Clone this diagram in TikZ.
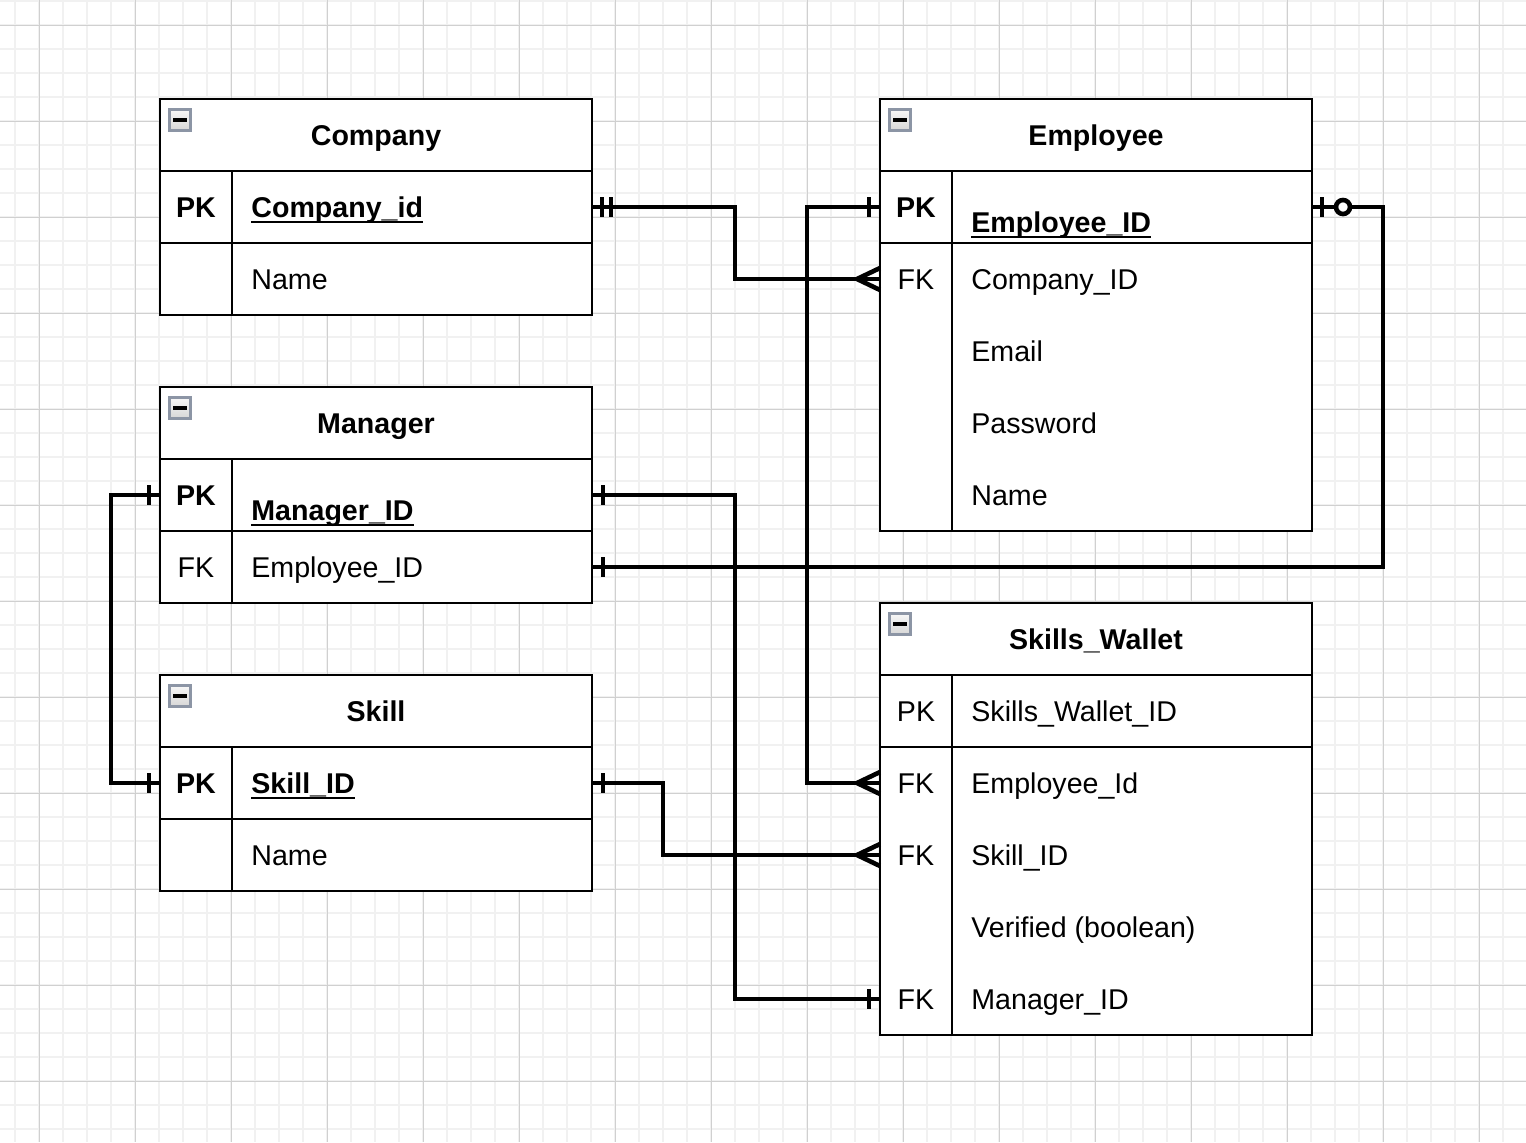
\documentclass[tikz,border=0pt]{standalone}
\usepackage{fontspec}
\setmainfont{Liberation Sans}
\usepackage{tikz}
\usetikzlibrary{positioning}
\definecolor{GridMinor}{HTML}{F1F1F1}
\definecolor{GridMajor}{HTML}{D0D0D0}
\definecolor{IconBorder}{HTML}{8C95A5}
\newcommand{\erfont}{\fontsize{14.3}{17}\selectfont}
% underline sitting just under the baseline
\newcommand{\ulfield}[1]{\setbox0\hbox{#1}\rlap{\rule[-2.8pt]{\wd0}{1pt}}\box0}
\tikzset{
  tabletitle/.style={rectangle, fill=white, minimum width=216pt, minimum height=36pt, inner sep=0pt, outer sep=0pt, anchor=north west, text height=10.2pt, text depth=0pt, font=\erfont\bfseries},
  tablerow/.style={rectangle, fill=white, minimum width=216pt, minimum height=36pt, inner sep=0pt, outer sep=0pt},
  keytext/.style={inner sep=0pt, text height=10.2pt, text depth=0pt, font=\erfont},
  fieldtext/.style={keytext, anchor=west},
  boldtext/.style={font=\erfont\bfseries},
  tableline/.style={draw=black, line width=1pt},
  relline/.style={draw=black, line width=2.3pt},
  minusbox/.style={rectangle, draw=IconBorder, line width=1.1pt, minimum size=10.5pt, inner sep=0pt, top color=gray!6, bottom color=gray!32,
    path picture={\draw[black, line width=1.7pt] ([xshift=-3.4pt]path picture bounding box.center) -- ([xshift=3.4pt]path picture bounding box.center);}},
  gridminor/.style={draw=GridMinor, line width=0.8pt},
  gridmajor/.style={draw=GridMajor, line width=0.5pt},
  crowfoot/.pic={\draw[relline] (-23,0) -- (0,-11) (-23,0) -- (0,11);},
  onebar/.pic={\draw[relline] (-11,-10) -- (-11,10);},
  twobar/.pic={\draw[relline] (-10,-10) -- (-10,10) (-19,-10) -- (-19,10);},
  zeroone/.pic={\draw[relline] (-10,-10) -- (-10,10); \draw[relline, fill=white] (-31,0) circle (7);}
}

\begin{document}
\begin{tikzpicture}[x=0.5pt, y=-0.5pt]
  \useasboundingbox (0,0) rectangle (1526,1142);
  \fill[white] (0,0) rectangle (1526,1142);

  % grid
  \foreach \gx in {15,39,...,1526} \draw[gridminor] (\gx,0) -- (\gx,1142);
  \foreach \gy in {1,25,...,1142} \draw[gridminor] (0,\gy) -- (1526,\gy);
  \foreach \gx in {39,135,...,1526} \draw[gridmajor] (\gx,0) -- (\gx,1142);
  \foreach \gy in {25,121,...,1142} \draw[gridmajor] (0,\gy) -- (1526,\gy);

  % Company
  \node[tabletitle] (company) at (160,99) {Company};
  \node[tablerow, below=0pt of company] (companyId) {};
  \node[tablerow, below=0pt of companyId] (companyName) {};
  \node[keytext, boldtext] (companyPK) at ([xshift=18pt]companyId.west) {PK};
  \node[fieldtext, boldtext] (companyIdTxt) at ([xshift=45.5pt]companyId.west) {\ulfield{Company\_id}};
  \node[fieldtext] (companyNameTxt) at ([xshift=45.5pt]companyName.west) {Name};
  \draw[tableline] (company.north west) rectangle (companyName.south east);
  \draw[tableline] (company.south west) -- (company.south east) (companyId.south west) -- (companyId.south east)
    ([xshift=36pt]company.south west) -- ([xshift=36pt]companyName.south west);
  \node[minusbox] (companyMin) at ([shift={(20,21)}]company.north west) {};

  % Employee
  \node[tabletitle] (employee) at (880,99) {Employee};
  \node[tablerow, below=0pt of employee] (empId) {};
  \node[tablerow, below=0pt of empId] (empCompany) {};
  \node[tablerow, below=0pt of empCompany] (empEmail) {};
  \node[tablerow, below=0pt of empEmail] (empPassword) {};
  \node[tablerow, below=0pt of empPassword] (empName) {};
  \node[keytext, boldtext] (empPK) at ([xshift=18pt]empId.west) {PK};
  \node[fieldtext, boldtext] (empIdTxt) at ([xshift=45.5pt, yshift=-7.5pt]empId.west) {\ulfield{Employee\_ID}};
  \node[keytext] (empFK) at ([xshift=18pt]empCompany.west) {FK};
  \node[fieldtext] (empCompanyTxt) at ([xshift=45.5pt]empCompany.west) {Company\_ID};
  \node[fieldtext] (empEmailTxt) at ([xshift=45.5pt]empEmail.west) {Email};
  \node[fieldtext] (empPasswordTxt) at ([xshift=45.5pt]empPassword.west) {Password};
  \node[fieldtext] (empNameTxt) at ([xshift=45.5pt]empName.west) {Name};
  \draw[tableline] (employee.north west) rectangle (empName.south east);
  \draw[tableline] (employee.south west) -- (employee.south east) (empId.south west) -- (empId.south east)
    ([xshift=36pt]employee.south west) -- ([xshift=36pt]empName.south west);
  \node[minusbox] (employeeMin) at ([shift={(20,21)}]employee.north west) {};

  % Manager
  \node[tabletitle] (manager) at (160,387) {Manager};
  \node[tablerow, below=0pt of manager] (mgrId) {};
  \node[tablerow, below=0pt of mgrId] (mgrEmployee) {};
  \node[keytext, boldtext] (mgrPK) at ([xshift=18pt]mgrId.west) {PK};
  \node[fieldtext, boldtext] (mgrIdTxt) at ([xshift=45.5pt, yshift=-7.5pt]mgrId.west) {\ulfield{Manager\_ID}};
  \node[keytext] (mgrFK) at ([xshift=18pt]mgrEmployee.west) {FK};
  \node[fieldtext] (mgrEmployeeTxt) at ([xshift=45.5pt]mgrEmployee.west) {Employee\_ID};
  \draw[tableline] (manager.north west) rectangle (mgrEmployee.south east);
  \draw[tableline] (manager.south west) -- (manager.south east) (mgrId.south west) -- (mgrId.south east)
    ([xshift=36pt]manager.south west) -- ([xshift=36pt]mgrEmployee.south west);
  \node[minusbox] (managerMin) at ([shift={(20,21)}]manager.north west) {};

  % Skill
  \node[tabletitle] (skill) at (160,675) {Skill};
  \node[tablerow, below=0pt of skill] (skillId) {};
  \node[tablerow, below=0pt of skillId] (skillName) {};
  \node[keytext, boldtext] (skillPK) at ([xshift=18pt]skillId.west) {PK};
  \node[fieldtext, boldtext] (skillIdTxt) at ([xshift=45.5pt]skillId.west) {\ulfield{Skill\_ID}};
  \node[fieldtext] (skillNameTxt) at ([xshift=45.5pt]skillName.west) {Name};
  \draw[tableline] (skill.north west) rectangle (skillName.south east);
  \draw[tableline] (skill.south west) -- (skill.south east) (skillId.south west) -- (skillId.south east)
    ([xshift=36pt]skill.south west) -- ([xshift=36pt]skillName.south west);
  \node[minusbox] (skillMin) at ([shift={(20,21)}]skill.north west) {};

  % Skills_Wallet
  \node[tabletitle] (wallet) at (880,603) {Skills\_Wallet};
  \node[tablerow, below=0pt of wallet] (swId) {};
  \node[tablerow, below=0pt of swId] (swEmployee) {};
  \node[tablerow, below=0pt of swEmployee] (swSkill) {};
  \node[tablerow, below=0pt of swSkill] (swVerified) {};
  \node[tablerow, below=0pt of swVerified] (swManager) {};
  \node[keytext] (swPK) at ([xshift=18pt]swId.west) {PK};
  \node[fieldtext] (swIdTxt) at ([xshift=45.5pt]swId.west) {Skills\_Wallet\_ID};
  \node[keytext] (swFK1) at ([xshift=18pt]swEmployee.west) {FK};
  \node[fieldtext] (swEmployeeTxt) at ([xshift=45.5pt]swEmployee.west) {Employee\_Id};
  \node[keytext] (swFK2) at ([xshift=18pt]swSkill.west) {FK};
  \node[fieldtext] (swSkillTxt) at ([xshift=45.5pt]swSkill.west) {Skill\_ID};
  \node[fieldtext] (swVerifiedTxt) at ([xshift=45.5pt]swVerified.west) {Verified (boolean)};
  \node[keytext] (swFK3) at ([xshift=18pt]swManager.west) {FK};
  \node[fieldtext] (swManagerTxt) at ([xshift=45.5pt]swManager.west) {Manager\_ID};
  \draw[tableline] (wallet.north west) rectangle (swManager.south east);
  \draw[tableline] (wallet.south west) -- (wallet.south east) (swId.south west) -- (swId.south east)
    ([xshift=36pt]wallet.south west) -- ([xshift=36pt]swManager.south west);
  \node[minusbox] (walletMin) at ([shift={(20,21)}]wallet.north west) {};

  % relationships
  \draw[relline] (companyId.east) -- ++(143,0) |- (empCompany.west);
  \draw[relline] (empId.west) -- ++(-73,0) |- (swEmployee.west);
  \draw[relline] (empId.east) -- ++(71,0) |- (mgrEmployee.east);
  \draw[relline] (mgrId.east) -- ++(143,0) |- (swManager.west);
  \draw[relline] (mgrId.west) -- ++(-49,0) |- (skillId.west);
  \draw[relline] (skillId.east) -- ++(71,0) |- (swSkill.west);

  % end markers
  \pic[xscale=-1] at (companyId.east) {twobar};
  \pic at (empCompany.west) {crowfoot};
  \pic at (empId.west) {onebar};
  \pic at (swEmployee.west) {crowfoot};
  \pic[xscale=-1] at (empId.east) {zeroone};
  \pic[xscale=-1] at (mgrEmployee.east) {onebar};
  \pic[xscale=-1] at (mgrId.east) {onebar};
  \pic at (swManager.west) {onebar};
  \pic at (mgrId.west) {onebar};
  \pic at (skillId.west) {onebar};
  \pic[xscale=-1] at (skillId.east) {onebar};
  \pic at (swSkill.west) {crowfoot};
\end{tikzpicture}
\end{document}
